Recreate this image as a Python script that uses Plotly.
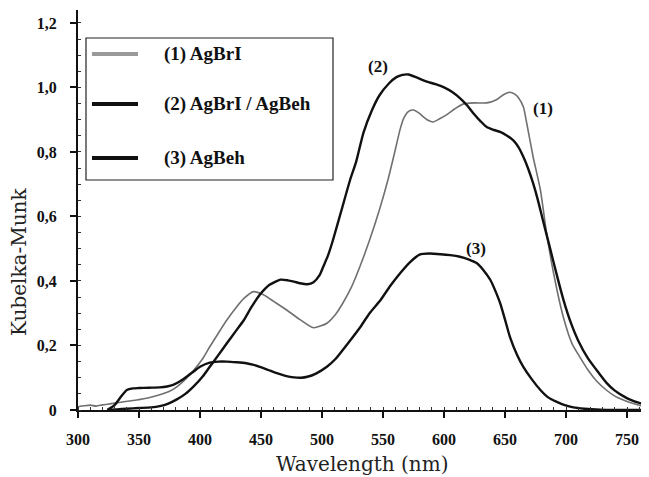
import plotly.graph_objects as go

# ---------------- data ----------------
wl_agbri = [300, 305, 310, 315, 320, 326, 335, 348, 358, 367, 375, 381, 388, 395, 402, 408, 415,
            422, 429, 436, 444, 452, 461, 471, 482, 493, 504, 511, 517, 524, 531, 539, 547, 554,
            559, 564, 567, 571, 575, 579, 583, 587, 591, 596, 602, 609, 616, 625, 635, 643, 649,
            654, 658, 661, 665, 668, 673, 679, 684, 690, 698, 705, 712, 718, 725, 733, 740, 747,
            755, 762, 768]
km_agbri = [0.010, 0.013, 0.015, 0.012, 0.016, 0.019, 0.024, 0.031, 0.038, 0.047, 0.058, 0.072,
            0.095, 0.124, 0.158, 0.196, 0.238, 0.279, 0.315, 0.346, 0.367, 0.357, 0.335, 0.310,
            0.280, 0.255, 0.269, 0.296, 0.331, 0.380, 0.444, 0.527, 0.620, 0.713, 0.790, 0.870,
            0.905, 0.926, 0.930, 0.922, 0.909, 0.898, 0.893, 0.902, 0.915, 0.934, 0.949, 0.952,
            0.952, 0.962, 0.978, 0.985, 0.979, 0.968, 0.940, 0.885, 0.785, 0.682, 0.550, 0.420,
            0.285, 0.205, 0.160, 0.124, 0.090, 0.062, 0.043, 0.031, 0.020, 0.013, 0.010]

wl_mix = [324, 332, 340, 350, 360, 367, 374, 381, 388, 395, 402, 408, 415, 422, 429, 436, 442,
          449, 457, 466, 472, 477, 482, 488, 493, 498, 501, 505, 509, 516, 523, 528, 534, 541,
          547, 555, 561, 566, 571, 578, 586, 593, 600, 607, 613, 619, 624, 630, 635, 641, 646,
          651, 657, 661, 665, 669, 673, 677, 681, 686, 692, 698, 704, 710, 718, 725, 733, 740,
          747, 752, 760, 768]
km_mix = [0.000, 0.002, 0.004, 0.006, 0.008, 0.012, 0.020, 0.033, 0.050, 0.074, 0.103, 0.134,
          0.170, 0.207, 0.243, 0.279, 0.318, 0.357, 0.388, 0.404, 0.402, 0.398, 0.393, 0.390,
          0.396, 0.418, 0.444, 0.480, 0.527, 0.620, 0.713, 0.770, 0.860, 0.930, 0.975, 1.013,
          1.032, 1.039, 1.040, 1.030, 1.018, 1.010, 1.000, 0.985, 0.967, 0.944, 0.920, 0.895,
          0.877, 0.868, 0.862, 0.852, 0.835, 0.815, 0.785, 0.748, 0.703, 0.650, 0.589, 0.515,
          0.425, 0.340, 0.270, 0.215, 0.160, 0.124, 0.085, 0.060, 0.043, 0.033, 0.022, 0.016]

wl_agbeh = [324, 330, 335, 340, 345, 350, 358, 367, 373, 378, 384, 389, 395, 400, 408, 415, 422,
            430, 438, 444, 449, 456, 463, 470, 477, 483, 488, 495, 504, 511, 517, 524, 531, 539,
            548, 556, 564, 572, 580, 588, 597, 605, 613, 620, 627, 632, 638, 642, 646, 650, 654,
            660, 665, 672, 679, 685, 692, 699, 706, 715, 728, 740, 768]
km_agbeh = [0.000, 0.015, 0.040, 0.062, 0.067, 0.068, 0.069, 0.070, 0.073, 0.078, 0.090, 0.103,
            0.120, 0.134, 0.147, 0.150, 0.150, 0.148, 0.145, 0.140, 0.134, 0.124, 0.114, 0.106,
            0.101, 0.100, 0.103, 0.113, 0.134, 0.158, 0.186, 0.220, 0.255, 0.300, 0.341, 0.385,
            0.424, 0.458, 0.482, 0.485, 0.483, 0.480, 0.475, 0.467, 0.455, 0.435, 0.403, 0.370,
            0.331, 0.280, 0.227, 0.170, 0.134, 0.095, 0.062, 0.040, 0.026, 0.015, 0.008, 0.004,
            0.001, 0.000, 0.000]

x_ticks = [300, 350, 400, 450, 500, 550, 600, 650, 700, 750]
x_ticktext = ["300", "350", "400", "450", "500", "550", "600", "650", "700", "750"]
y_ticks = [0, 0.2, 0.4, 0.6, 0.8, 1.0, 1.2]
y_ticktext = ["0", "0,2", "0,4", "0,6", "0,8", "1,0", "1,2"]

series_names = ["(1) AgBrI", "(2) AgBrI / AgBeh", "(3) AgBeh"]
curve_labels = ["(1)", "(2)", "(3)"]
label_x = [681, 546, 626]
label_y = [0.935, 1.064, 0.500]

# ---------------- figure ----------------
OFF = 8                      # page body margin of the html page
W, H = 649 - OFF, 477 - OFF
ML, MR, MT, MB = 78 - OFF, 0, 10 - OFF, 477 - 410
X_RANGE = [300, 768]
Y_RANGE = [0, 1.24]

GRAY = "#707070"
BLACK = "#111111"
TICKFONT = dict(family="Liberation Serif", size=16, color="#111111")

fig = go.Figure()
fig.add_trace(go.Scatter(x=wl_agbri, y=km_agbri, mode="lines", name=series_names[0],
                         line=dict(color=GRAY, width=1.6, shape="spline", smoothing=0.6),
                         showlegend=False))
fig.add_trace(go.Scatter(x=wl_mix, y=km_mix, mode="lines", name=series_names[1],
                         line=dict(color=BLACK, width=2.4, shape="spline", smoothing=0.6),
                         showlegend=False))
fig.add_trace(go.Scatter(x=wl_agbeh, y=km_agbeh, mode="lines", name=series_names[2],
                         line=dict(color=BLACK, width=2.4, shape="spline", smoothing=0.6),
                         showlegend=False))


def px_to_paper_x(px):
    return (px - OFF - ML) / (W - ML - MR)


def px_to_paper_y(py):
    return (H - MB - (py - OFF)) / (H - MT - MB)


annotations = []
for txt, lx, ly in zip(curve_labels, label_x, label_y):
    annotations.append(dict(x=lx, y=ly, xref="x", yref="y", text="<b>" + txt + "</b>",
                            showarrow=False, font=dict(family="Liberation Serif", size=17,
                                                       color="#111111")))

# legend (manual, boxed)
shapes = [dict(type="rect", xref="paper", yref="paper",
               x0=px_to_paper_x(86), x1=px_to_paper_x(333),
               y0=px_to_paper_y(180), y1=px_to_paper_y(38),
               line=dict(color="#222222", width=1.2), fillcolor="white", layer="above")]
leg_y = [54, 104, 158]
leg_col = ["#9a9a9a", BLACK, BLACK]
for name, py, col in zip(series_names, leg_y, leg_col):
    shapes.append(dict(type="line", xref="paper", yref="paper",
                       x0=px_to_paper_x(92), x1=px_to_paper_x(138),
                       y0=px_to_paper_y(py), y1=px_to_paper_y(py),
                       line=dict(color=col, width=4), layer="above"))
    annotations.append(dict(x=px_to_paper_x(162), y=px_to_paper_y(py), xref="paper",
                            yref="paper", xanchor="left", yanchor="middle",
                            text="<b>" + name + "</b>", showarrow=False,
                            font=dict(family="Liberation Serif", size=19, color="#111111")))

# axis titles
annotations.append(dict(x=px_to_paper_x(362), y=px_to_paper_y(464), xref="paper", yref="paper",
                        text="Wavelength (nm)", showarrow=False, xanchor="center",
                        yanchor="middle",
                        font=dict(family="DejaVu Serif", size=20, color="#222222")))
annotations.append(dict(x=px_to_paper_x(19), y=px_to_paper_y(262), xref="paper", yref="paper",
                        text="Kubelka-Munk", showarrow=False, textangle=-90, xanchor="center",
                        yanchor="middle",
                        font=dict(family="DejaVu Serif", size=20, color="#222222")))

fig.update_layout(
    width=W, height=H,
    margin=dict(l=ML, r=MR, t=MT, b=MB, pad=0),
    paper_bgcolor="white", plot_bgcolor="white",
    showlegend=False,
    shapes=shapes,
    annotations=annotations,
    xaxis=dict(range=X_RANGE, tickvals=x_ticks, ticktext=[f"<b>{t}</b>" for t in x_ticktext],
               ticks="outside", ticklen=6, tickwidth=2, tickcolor="#111111",
               showline=True, linecolor="#111111", linewidth=2, showgrid=False, zeroline=False,
               tickfont=TICKFONT, ticklabelstandoff=8,
               minor=dict(ticks="inside", dtick=10, ticklen=3, tickwidth=1, tickcolor="#333333")),
    yaxis=dict(range=Y_RANGE, tickvals=y_ticks, ticktext=[f"<b>{t}</b>" for t in y_ticktext],
               ticks="outside", ticklen=6, tickwidth=2, tickcolor="#111111",
               showline=True, linecolor="#111111", linewidth=2, showgrid=False, zeroline=False,
               tickfont=TICKFONT, ticklabelstandoff=10,
               minor=dict(ticks="inside", dtick=0.05, ticklen=3, tickwidth=1, tickcolor="#333333")),
    xaxis2=dict(range=X_RANGE, overlaying="x", anchor="y", side="bottom", tickvals=x_ticks,
                ticks="inside", ticklen=5, tickwidth=2, tickcolor="#111111",
                showticklabels=False, showline=False, showgrid=False, zeroline=False),
    yaxis2=dict(range=Y_RANGE, overlaying="y", anchor="x", side="left", tickvals=y_ticks,
                ticks="inside", ticklen=4, tickwidth=2, tickcolor="#111111",
                showticklabels=False, showline=False, showgrid=False, zeroline=False),
)

fig.write_html("out.html")
